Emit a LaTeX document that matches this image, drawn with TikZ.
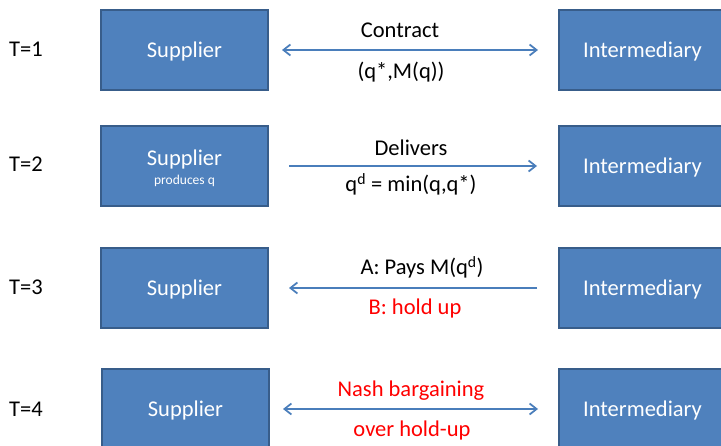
\documentclass[tikz,border=0pt]{standalone}
\usepackage{fontspec}
\setmainfont{Carlito}
\usetikzlibrary{arrows.meta}
\definecolor{boxfill}{HTML}{4F81BD}
\definecolor{boxline}{HTML}{385D8A}
\definecolor{arrowc}{HTML}{4A7EBB}
\definecolor{redtxt}{HTML}{FF0000}
\begin{document}
\begin{tikzpicture}[x=1pt,y=-1pt,
  party/.style={draw=boxline, line width=2pt, fill=boxfill, text=white,
    minimum width=167pt, minimum height=80pt, inner sep=0pt, align=center,
    text height=16pt, text depth=0pt,
    font=\fontsize{22.5}{27}\selectfont, anchor=north west},
  lbl/.style={font=\fontsize{22.5}{27}\selectfont, inner sep=0pt, anchor=base},
  tlbl/.style={font=\fontsize{22.5}{27}\selectfont, inner sep=0pt, anchor=base west},
  flow/.style={draw=arrowc, line width=1.75pt,
    arrows={Straight Barb[length=7pt,width=11pt]-Straight Barb[length=7pt,width=11pt]}},
  flowr/.style={draw=arrowc, line width=1.75pt,
    arrows={-Straight Barb[length=7pt,width=11pt]}}
]
\useasboundingbox (0,0) rectangle (721,446);
\clip (0,0) rectangle (721,446);
\fill[white] (0,0) rectangle (721,446);

% time labels
\node[tlbl] (t1) at (9,57) {T=1};
\node[tlbl] (t2) at (9,172) {T=2};
\node[tlbl] (t3) at (9,295) {T=3};
\node[tlbl] (t4) at (9,417) {T=4};

% boxes
\node[party] (s1) at (100,9) {Supplier};
\node[party] (i1) at (558,9) {Intermediary};
\node[party, text height=38pt] (s2) at (100,125) {Supplier\\[-8pt]{\fontsize{13.5}{16}\selectfont produces q}};
\node[party] (i2) at (558,125) {Intermediary};
\node[party] (s3) at (100,247) {Supplier};
\node[party] (i3) at (558,247) {Intermediary};
\node[party] (s4) at (101,368) {Supplier};
\node[party] (i4) at (558,368) {Intermediary};

% connectors
\draw[flow, shorten <=13pt, shorten >=20pt] (s1) -- (i1);
\draw[flowr, shorten <=20pt, shorten >=21pt] (s2) -- (i2);
\draw[flowr, shorten <=21pt, shorten >=20pt] (i3) -- (s3);
\draw[flow, shorten <=13pt, shorten >=20pt] (s4) -- (i4);

% labels
\node[lbl] (c1) at (400,38) {Contract};
\node[lbl] (c2) at (401,79) {(q*,M(q))};
\node[lbl] (d1) at (411,156) {Delivers};
\node[lbl] (d2) at (411,192) {q\textsuperscript{d} = min(q,q*)};
\node[lbl] (p1) at (422,275) {A: Pays M(q\textsuperscript{d})};
\node[lbl, text=redtxt] (p2) at (415,315) {B: hold up};
\node[lbl, text=redtxt] (n1) at (411,397) {Nash bargaining};
\node[lbl, text=redtxt] (n2) at (412,437) {over hold-up};
\end{tikzpicture}
\end{document}
